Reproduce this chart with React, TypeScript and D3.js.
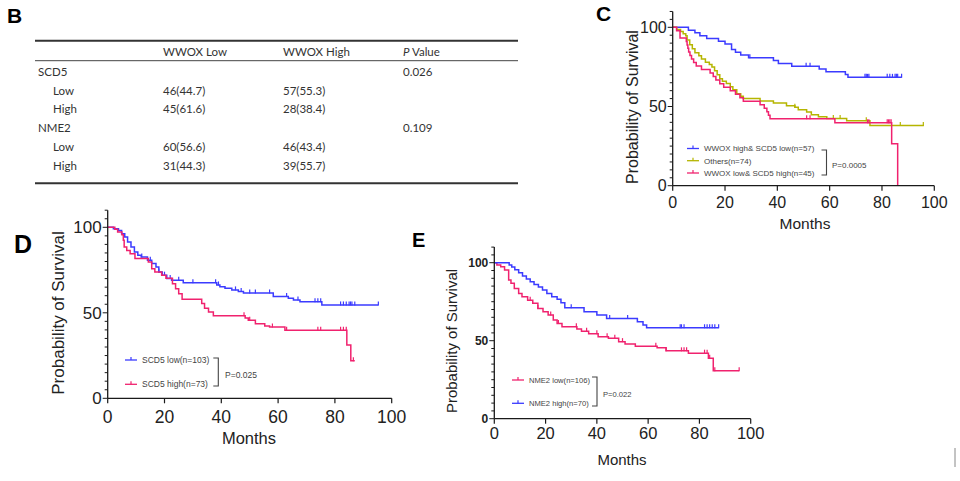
import React from "react";
import * as d3 from "d3";

// ---------- Table B ----------
const tableHeader = ["WWOX Low", "WWOX High", "P Value"];
const tableRows: { label: string; indent: boolean; low: string; high: string; p: string }[] = [
  { label: "SCD5", indent: false, low: "", high: "", p: "0.026" },
  { label: "Low", indent: true, low: "46(44.7)", high: "57(55.3)", p: "" },
  { label: "High", indent: true, low: "45(61.6)", high: "28(38.4)", p: "" },
  { label: "NME2", indent: false, low: "", high: "", p: "0.109" },
  { label: "Low", indent: true, low: "60(56.6)", high: "46(43.4)", p: "" },
  { label: "High", indent: true, low: "31(44.3)", high: "39(55.7)", p: "" },
];

// ---------- Panel C ----------
const cBlueT = [6, 8.5, 10.4, 13, 17.5, 20, 22.5, 24, 26, 29, 38.5, 40.4, 45.5, 56, 58.6, 66, 67];
const cBlueS = [98.2, 96.5, 94.7, 93, 91.2, 89.5, 86, 84.2, 82.5, 80.7, 79, 77.2, 75.4, 73.7, 71.9, 70.2, 68.4];
const cBlueCens = [29.5, 51, 52.5, 73.5, 74, 74.5, 75, 82, 83, 84, 85, 85.5, 86, 87.5];
const cYelT = [1.5, 3, 4, 5, 5.5, 6.5, 7.5, 8.5, 10, 11, 12.5, 14, 15, 16, 17, 18, 19, 20.5, 22, 23, 24.5, 26, 27, 33.4, 38.5, 43.5, 46.7, 48, 51.2, 53, 55.7, 58.9, 66.5, 75.4];
const cYelS = [98.6, 97.3, 95.9, 94.6, 92, 89, 86.5, 84, 82, 80, 78, 76.5, 75, 72.5, 70, 67.5, 66, 64.5, 62.5, 60.5, 58, 56.5, 55, 53.5, 52.2, 50.5, 49.5, 48, 46.5, 44.8, 43.6, 42.5, 41, 38];
const cYelCens = [46.7, 61.4, 64, 74, 87, 95.8];
const cRedT = [1.5, 2.8, 5.2, 5.5, 5.8, 6.1, 6.6, 7.2, 8, 9, 11, 14.3, 15.5, 16.5, 18, 19.5, 22, 24, 25.7, 27, 33.4, 35, 36, 36.6, 37.2, 62, 83.7, 86];
const cRedS = [97.8, 93.3, 91.1, 88.9, 86.7, 84.4, 82.2, 80, 77.8, 75.6, 73.3, 71.1, 68.9, 66.7, 64.4, 62.2, 60, 57.8, 55.6, 53.3, 51.1, 48.9, 46.7, 44.4, 42.2, 39.7, 26.5, 0];
const cRedCens = [51.2, 52.5, 74.5, 75, 82, 82.5, 83, 83.5];

// ---------- Panel D ----------
const dBlueT = [2, 3.8, 4.9, 6, 7, 8.2, 9.4, 10.6, 11.8, 14, 15.5, 17, 18, 19.2, 20.8, 22.5, 26.6, 38.4, 39.5, 41.3, 43.7, 46, 47.8, 58.3, 63.6, 65.4, 67.7, 75.4];
const dBlueS = [99.2, 98.2, 96.3, 94.3, 91.4, 88.5, 85.6, 83.6, 82.6, 80.7, 78.8, 76.8, 73.9, 72, 70, 69, 67.6, 66.3, 65.3, 64.3, 63.4, 62.5, 61.6, 59.6, 58.5, 57.5, 56.5, 54.6];
const dBlueCens = [12, 15, 18, 20, 22, 25, 30, 38, 39, 45, 47, 50, 52, 57, 63, 67, 73, 74, 75, 82, 83, 84, 85, 85.5, 86, 87, 95.3];
const dRedT = [2.5, 3.5, 5, 5.5, 5.8, 6.7, 7.9, 9.6, 14.3, 15.5, 16.6, 19, 20.5, 22.8, 23.9, 25, 26.2, 33.1, 34.1, 35.5, 37.2, 48.4, 49.5, 52, 55.3, 57, 62.4, 84.2, 85.6];
const dRedS = [98.8, 97.3, 95.7, 92.4, 88.5, 86.5, 84.6, 81.7, 79.7, 75.8, 73.9, 72, 70.2, 67, 64.1, 61.2, 57.9, 55.5, 52.6, 50.5, 48.3, 47, 45.6, 43.6, 42.3, 41.7, 39.8, 31.2, 22];
const dRedCens = [48, 50, 58, 63, 74, 75, 82, 83, 84, 86.5];

// ---------- Panel E ----------
const eBlueT = [5.8, 6.8, 8, 9.5, 11, 12.5, 14, 15.5, 17.2, 18.8, 20.5, 22.4, 24.5, 26, 27.5, 35, 40, 43.8, 55.8, 58, 59.4];
const eBlueS = [98.5, 97.2, 95.5, 93.5, 91.5, 89.5, 87.8, 86, 84.4, 82.5, 80.3, 78.2, 76.5, 74.3, 71.2, 68.6, 66.5, 64.3, 62.2, 60, 58.3];
const eBlueCens = [30, 45, 52, 72.5, 73, 74, 82, 83, 84, 85, 86, 87.5];
const eRedT = [1, 2.5, 4, 5.6, 6.5, 7.8, 9.5, 10.8, 13, 15, 17, 19, 21, 23, 24.5, 26.4, 32.2, 34, 36.8, 40.5, 44.5, 48.5, 51, 55, 63.5, 67, 75.7, 83.5, 85.4];
const eRedS = [98.5, 97.4, 95.3, 88.9, 86.8, 83.5, 80.3, 78.2, 76, 74, 70.7, 68.6, 66.5, 63.2, 61, 59, 57.5, 56, 54.5, 52.6, 51.5, 49.4, 47.9, 46.5, 45.5, 43.5, 42, 38.7, 30.8];
const eRedCens = [14, 17, 22, 25, 32, 36, 40, 44, 47, 50, 63, 67, 73, 74, 75, 82, 83, 84, 86, 95.5];

const BLUE = "#3b3bff";
const YEL = "#b5b500";
const RED = "#f0226e";

const xTicks = [0, 20, 40, 60, 80, 100];
const yMajor = [0, 50, 100];
const yMinor = d3.range(0, 111, 5);

type Curve = { t: number[]; s: number[]; end: number; cens: number[]; color: string; label: string };

function survAt(c: Curve, time: number) {
  let v = 100;
  for (let i = 0; i < c.t.length; i++) if (c.t[i] <= time) v = c.s[i];
  return v;
}

type PanelProps = {
  x0: number; x1: number; y0: number; y100: number;
  curves: Curve[];
  tickFont: number; yTickFont: number; yTickBold: boolean;
  xTickBaseline: number;
  monthsX: number; monthsY: number; monthsFont: number;
  ylabX: number; ylabY: number; ylabFont: number;
  legX: number; legRows: number[]; legFont: number;
  brX: number; brY0: number; brY1: number; pText: string; pX: number; pY: number;
};

function Panel(p: PanelProps) {
  const x = d3.scaleLinear().domain([0, 100]).range([p.x0, p.x1]);
  const y = d3.scaleLinear().domain([0, 100]).range([p.y0, p.y100]);
  const line = d3.line<[number, number]>().x(d => x(d[0])).y(d => y(d[1])).curve(d3.curveStepAfter);
  const ax = "#1a1a1a";
  return (
    <g>
      {p.curves.map((c, i) => {
        const pts: [number, number][] = [[0, 100]];
        c.t.forEach((t, j) => pts.push([t, c.s[j]]));
        if (c.end > c.t[c.t.length - 1]) pts.push([c.end, c.s[c.s.length - 1]]);
        return (
          <g key={i}>
            <path d={line(pts) || ""} fill="none" stroke={c.color} strokeWidth={1.5} />
            {c.cens.map((ct, k) => {
              const sv = survAt(c, ct);
              return <line key={k} x1={x(ct)} x2={x(ct)} y1={y(sv) - 3.5} y2={y(sv) + 0.5} stroke={c.color} strokeWidth={1.2} />;
            })}
          </g>
        );
      })}
      {/* axes */}
      <line x1={p.x0} x2={p.x0} y1={y(0)} y2={y(110)} stroke={ax} strokeWidth={1.3} />
      <line x1={p.x0} x2={p.x1} y1={p.y0} y2={p.y0} stroke={ax} strokeWidth={1.3} />
      {yMinor.map(v => (
        <line key={v} x1={p.x0 - (yMajor.includes(v) ? 5 : 3)} x2={p.x0} y1={y(v)} y2={y(v)} stroke={ax} strokeWidth={1} />
      ))}
      {yMajor.map(v => (
        <text key={v} x={p.x0 - 6} y={y(v)} dy="0.36em" textAnchor="end" fontSize={p.yTickFont}
          fontWeight={p.yTickBold ? "bold" : "normal"} fontFamily="Liberation Sans, Arial, sans-serif" fill="#222">{v}</text>
      ))}
      {xTicks.map(v => (
        <g key={v}>
          <line x1={x(v)} x2={x(v)} y1={p.y0} y2={p.y0 + 5} stroke={ax} strokeWidth={1.2} />
          <text x={x(v)} y={p.xTickBaseline} textAnchor="middle" fontSize={p.tickFont}
            fontFamily="Liberation Sans, Arial, sans-serif" fill="#222">{v}</text>
        </g>
      ))}
      <text x={p.monthsX} y={p.monthsY} textAnchor="middle" fontSize={p.monthsFont}
        fontFamily="Liberation Sans, Arial, sans-serif" fill="#222">Months</text>
      <text transform={`translate(${p.ylabX},${p.ylabY}) rotate(-90)`} textAnchor="middle" dy="0.36em"
        fontSize={p.ylabFont} fontFamily="Liberation Sans, Arial, sans-serif" fill="#222">Probability of Survival</text>
      {/* legend */}
      {p.curves.map((c, i) => {
        const ly = p.legRows[i];
        return (
          <g key={"l" + i}>
            <line x1={p.legX} x2={p.legX + 12} y1={ly} y2={ly} stroke={c.color} strokeWidth={1.3} />
            <line x1={p.legX + 6} x2={p.legX + 6} y1={ly - 3} y2={ly} stroke={c.color} strokeWidth={1.2} />
            <text x={p.legX + 17} y={ly} dy="0.35em" fontSize={p.legFont}
              fontFamily="Liberation Sans, Arial, sans-serif" fill="#444">{c.label}</text>
          </g>
        );
      })}
      <path d={`M${p.brX - 5},${p.brY0}H${p.brX}V${p.brY1}H${p.brX - 5}`} fill="none" stroke="#444" strokeWidth={1.1} />
      <text x={p.pX} y={p.pY} dy="0.35em" fontSize={p.legFont} fontFamily="Liberation Sans, Arial, sans-serif" fill="#444">{p.pText}</text>
    </g>
  );
}

export default function App() {
  const colX = [163, 283, 403];
  const rowY = [71.7, 90.7, 109.3, 128.3, 147.3, 166];
  const tf = "Lato, 'Open Sans', sans-serif";
  const cCurves: Curve[] = [
    { t: cBlueT, s: cBlueS, end: 87.5, cens: cBlueCens, color: BLUE, label: "WWOX high& SCD5 low(n=57)" },
    { t: cYelT, s: cYelS, end: 96, cens: cYelCens, color: YEL, label: "Others(n=74)" },
    { t: cRedT, s: cRedS, end: 86, cens: cRedCens, color: RED, label: "WWOX low& SCD5 high(n=45)" },
  ];
  const dCurves: Curve[] = [
    { t: dBlueT, s: dBlueS, end: 95.3, cens: dBlueCens, color: BLUE, label: "SCD5 low(n=103)" },
    { t: dRedT, s: dRedS, end: 87, cens: dRedCens, color: RED, label: "SCD5 high(n=73)" },
  ];
  const eCurves: Curve[] = [
    { t: eRedT, s: eRedS, end: 95.5, cens: eRedCens, color: RED, label: "NME2 low(n=106)" },
    { t: eBlueT, s: eBlueS, end: 87.5, cens: eBlueCens, color: BLUE, label: "NME2 high(n=70)" },
  ];
  return (
    <svg width={960} height={481} style={{ position: "absolute", left: 0, top: 0, background: "#fff" }}>
      {/* panel letters */}
      <text x={7} y={23} fontSize={21} fontWeight="bold" fontFamily="Liberation Sans, Arial, sans-serif">B</text>
      <text x={596} y={21} fontSize={21} fontWeight="bold" fontFamily="Liberation Sans, Arial, sans-serif">C</text>
      <text x={14} y={253} fontSize={25} fontWeight="bold" fontFamily="Liberation Sans, Arial, sans-serif">D</text>
      <text x={412} y={247} fontSize={20} fontWeight="bold" fontFamily="Liberation Sans, Arial, sans-serif">E</text>

      {/* table */}
      <line x1={35} x2={518} y1={40.7} y2={40.7} stroke="#333" strokeWidth={2} />
      <line x1={35} x2={518} y1={60.7} y2={60.7} stroke="#444" strokeWidth={1} />
      <line x1={35} x2={518} y1={183.3} y2={183.3} stroke="#333" strokeWidth={2} />
      <text x={colX[0]} y={51.7} dy="0.35em" fontSize={11.5} fontFamily={tf} fill="#333">{tableHeader[0]}</text>
      <text x={colX[1]} y={51.7} dy="0.35em" fontSize={11.5} fontFamily={tf} fill="#333">{tableHeader[1]}</text>
      <text x={colX[2]} y={51.7} dy="0.35em" fontSize={11.5} fontFamily={tf} fill="#333">
        <tspan fontStyle="italic">{tableHeader[2].split(" ")[0]}</tspan> {tableHeader[2].split(" ")[1]}
      </text>
      {tableRows.map((r, i) => (
        <g key={i}>
          <text x={r.indent ? 53 : 38} y={rowY[i]} dy="0.35em" fontSize={11.5} fontFamily={tf} fill="#333">{r.label}</text>
          <text x={colX[0]} y={rowY[i]} dy="0.35em" fontSize={11.5} fontFamily={tf} fill="#333">{r.low}</text>
          <text x={colX[1]} y={rowY[i]} dy="0.35em" fontSize={11.5} fontFamily={tf} fill="#333">{r.high}</text>
          <text x={colX[2]} y={rowY[i]} dy="0.35em" fontSize={11.5} fontFamily={tf} fill="#333">{r.p}</text>
        </g>
      ))}

      <Panel x0={672.7} x1={934.3} y0={185.7} y100={27.3} curves={cCurves}
        tickFont={16} yTickFont={16} yTickBold={false} xTickBaseline={207.5}
        monthsX={805} monthsY={228.5} monthsFont={15.5}
        ylabX={632} ylabY={107} ylabFont={16}
        legX={687} legRows={[148.5, 160.7, 173]} legFont={8}
        brX={826.5} brY0={150} brY1={175} pText="P=0.0005" pX={832} pY={165} />
      <Panel x0={107.7} x1={391.7} y0={398.3} y100={227.3} curves={dCurves}
        tickFont={17.5} yTickFont={17} yTickBold={false} xTickBaseline={423}
        monthsX={249} monthsY={444} monthsFont={16.5}
        ylabX={58} ylabY={313} ylabFont={17}
        legX={125} legRows={[360, 384.3]} legFont={8.5}
        brX={218.3} brY0={358} brY1={386} pText="P=0.025" pX={225} pY={375} />
      <Panel x0={494.3} x1={750.7} y0={418.7} y100={262.7} curves={eCurves}
        tickFont={16.5} yTickFont={12} yTickBold={true} xTickBaseline={439}
        monthsX={622} monthsY={465} monthsFont={15}
        ylabX={452} ylabY={341} ylabFont={15}
        legX={512} legRows={[380, 403.3]} legFont={7.6}
        brX={597} brY0={377} brY1={406} pText="P=0.022" pX={603} pY={394} />

      <line x1={955} x2={955} y1={448} y2={467} stroke="#888" strokeWidth={1} />
    </svg>
  );
}
